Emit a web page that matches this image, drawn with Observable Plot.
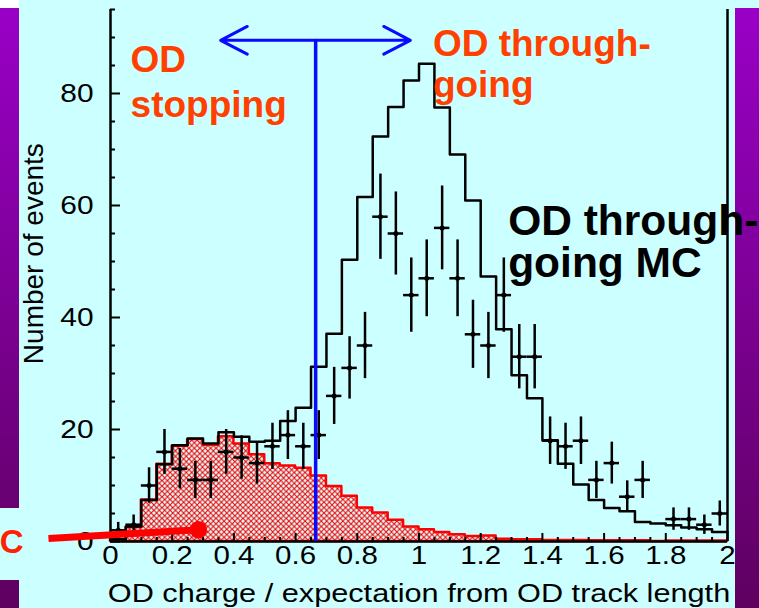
<!DOCTYPE html>
<html>
<head>
<meta charset="utf-8">
<script src="https://cdn.jsdelivr.net/npm/d3@7"></script>
<script src="https://cdn.jsdelivr.net/npm/@observablehq/plot@0.6"></script>
<style>
  html, body { margin: 0; padding: 0; width: 759px; height: 608px; overflow: hidden; background: #ccffff; position: relative; font-family: "Liberation Sans", Arial, sans-serif; }
  .bar { position: absolute; background: linear-gradient(#9a00c8, #5e0060) fixed; background-size: 100% 608px; }
  .white { position: absolute; background: #ffffff; }
  #chart { position: absolute; left: 0; top: 0; }
</style>
</head>
<body>
<div class="white" style="left:0;top:0;width:19px;height:8px"></div>
<div class="bar" style="left:0;top:8px;width:19px;height:500px"></div>
<div class="bar" style="left:0;top:580px;width:19px;height:28px"></div>
<div class="bar" style="left:735px;top:8px;width:24px;height:600px"></div>
<div id="chart"></div>
<script>
// ---------------- data ----------------
const binWidth = 0.05;
const nBins = 40;
// MC histogram (black outline), per 0.05 bin from 0 to 2
const mcTotal = [0.4, 2.7, 7.4, 13.8, 17.2, 18.4, 17.5, 19.5, 18.7, 17.8,
                 18.0, 21.5, 23.9, 31.2, 37.1, 50.3, 61.5, 72.3, 77.6, 82.3,
                 85.3, 77.5, 69.1, 60.9, 47.3, 37.9, 29.7, 25.6, 18.1, 13.9,
                 10.2, 7.4, 6.0, 5.4, 3.5, 3.2, 2.9, 2.5, 2.2, 1.7];
// stopping MC histogram (red hatched)
const mcStopping = [0.3, 2.5, 7.4, 13.8, 17.0, 18.2, 17.2, 18.7, 17.4, 15.5,
                    13.9, 13.5, 13.1, 11.7, 9.8, 8.1, 6.0, 5.1, 3.8, 2.6,
                    2.1, 1.6, 1.2, 0.9, 1.0, 0.4, 0.3, 0.3, 0.2, 0.2,
                    0.2, 0.15, 0.15, 0.15, 0.15, 0.0, 0.1, 0.1, 0.1, 0.1];
// observed data counts per bin
const dataCounts = [2, 3, 10, 16, 13, 11, 11, 16, 15, 14,
                    17, 19, 17, 19, 26, 31, 35, 58, 55, 44,
                    47, 56, 47, 37, 35, 44, 33, 33, 18, 17,
                    18, 11, 14, 8, 11, 0, 4, 4, 3, 5];
const xTickLabels = [0, 0.2, 0.4, 0.6, 0.8, 1, 1.2, 1.4, 1.6, 1.8, 2];
const yTickLabels = [0, 20, 40, 60, 80];
const xLabel = "OD charge / expectation from OD track length";
const yLabel = "Number of events";
const cutValue = 0.665;
const arrowSpan = [0.357, 0.972];
const arrowLevel = 89.5;
// annotation texts (positions in data units)
const orangeNotes = [
  {x: 0.065, y: 75.8, text: "OD\nstopping", lh: 1.22},
  {x: 1.045, y: 79.3, text: "OD through-\ngoing", lh: 1.13}
];
const blackNotes = [{x: 1.289, y: 47.3, text: "OD through-\ngoing MC"}];
const sideNote = [{x: -0.282, y: -2.14, text: "C"}];
const pointer = [{x1: -0.201, y1: 0.54, x2: 0.285, y2: 2.1}];
const yLabelPos = [{x: -0.2464, y: 51.4, text: yLabel}];

// ---------------- layout ----------------
const W = 759, H = 608, mL = 110, mR = 32, mT = 9, mB = 67;
const xDomain = [0, 2], yDomain = [0, 95];
const pxX = (W - mL - mR) / (xDomain[1] - xDomain[0]);
const pxY = (H - mT - mB) / (yDomain[1] - yDomain[0]);

const binStart = d3.range(nBins).map(i => +(i * binWidth).toFixed(2));
const mcStep = binStart.map((x, i) => ({x, y: mcTotal[i]})).concat([{x: xDomain[1], y: mcTotal[nBins - 1]}]);
const stopStep = binStart.map((x, i) => ({x, y: mcStopping[i]})).concat([{x: xDomain[1], y: mcStopping[nBins - 1]}]);
const pts = dataCounts.map((n, i) => ({x: binStart[i] + binWidth / 2, n})).filter(d => d.n > 0);

const xMinor = d3.range(0, 41).map(i => +(i * 0.05).toFixed(2));
const yMinor = d3.range(0, 20).map(i => i * 5);

const blue = "#0a0aff";
const orange = "#ff4000";
const font = "Liberation Sans, Arial, sans-serif";

const chart = Plot.plot({
  width: W, height: H,
  marginLeft: mL, marginRight: mR, marginTop: mT, marginBottom: mB,
  style: {background: "transparent", overflow: "visible", fontFamily: font},
  x: {domain: xDomain},
  y: {domain: yDomain},
  marks: [
    // red hatched stopping MC
    Plot.areaY(stopStep, {x: "x", y: "y", curve: "step-after", fill: "url(#xhatch)", stroke: "#ff0000", strokeWidth: 2.5}),
    // black MC
    Plot.line(mcStep, {x: "x", y: "y", curve: "step-after", stroke: "black", strokeWidth: 2.5}),
    // data points
    Plot.ruleX(pts, {x: "x", y1: d => d.n - Math.sqrt(d.n), y2: d => d.n + Math.sqrt(d.n), stroke: "black", strokeWidth: 2.5}),
    Plot.ruleY(pts, {y: "n", x1: d => d.x - binWidth / 2, x2: d => d.x + binWidth / 2, stroke: "black", strokeWidth: 2.5}),
    Plot.dot(pts, {x: "x", y: "n", r: 2.5, fill: "black"}),
    // axes frame
    Plot.ruleY([0], {stroke: "black", strokeWidth: 2.5}),
    Plot.ruleX([xDomain[0]], {stroke: "black", strokeWidth: 2.5}),
    Plot.ruleX([xDomain[1]], {stroke: "black", strokeWidth: 2.5}),
    Plot.ruleX(xMinor, {x: d => d, y1: 0, y2: d => (Math.abs(d * 5 - Math.round(d * 5)) < 1e-6 ? 8 : 4) / pxY, stroke: "black", strokeWidth: 2}),
    Plot.ruleY(yMinor, {y: d => d, x1: 0, x2: d => (d % 20 === 0 ? 10 : 5) / pxX, stroke: "black", strokeWidth: 2}),
    Plot.axisX({ticks: xTickLabels, tickSize: 0, tickPadding: 5, tickFormat: d => `${d}`, fontSize: 25, label: null, className: "stretch-tick"}),
    Plot.axisY({ticks: yTickLabels, tickSize: 0, tickPadding: 17, tickFormat: d => `${d}`, fontSize: 26, label: null, className: "ytick"}),
    Plot.text([xLabel], {x: (xDomain[0] + xDomain[1]) / 2, frameAnchor: "bottom", dy: 60.5, lineAnchor: "bottom", fontSize: 26, fill: "black", className: "stretch-label"}),
    Plot.text(yLabelPos, {x: "x", y: "y", text: "text", rotate: -90, lineAnchor: "middle", fontSize: 28, fill: "black"}),
    // blue cut line and arrows
    Plot.ruleX([cutValue], {y1: 0, y2: arrowLevel, stroke: blue, strokeWidth: 3.5}),
    Plot.arrow(arrowSpan.map(e => ({x1: cutValue, x2: e})), {x1: "x1", x2: "x2", y1: arrowLevel, y2: arrowLevel, stroke: blue, strokeWidth: 3, headLength: 15, headAngle: 55}),
    // annotations
    ...orangeNotes.map(n => Plot.text([n], {x: "x", y: "y", text: "text", textAnchor: "start", lineAnchor: "bottom", lineHeight: n.lh, fontSize: 37, fontWeight: "bold", fill: orange})),
    Plot.text(blackNotes, {x: "x", y: "y", text: "text", textAnchor: "start", lineAnchor: "bottom", lineHeight: 0.97, fontSize: 42.5, fontWeight: "bold", fill: "black"}),
    Plot.link(pointer, {x1: "x1", y1: "y1", x2: "x2", y2: "y2", stroke: "#ff0000", strokeWidth: 7}),
    Plot.dot(pointer, {x: "x2", y: "y2", r: 8.7, fill: "#ff0000"}),
    Plot.text(sideNote, {x: "x", y: "y", text: "text", textAnchor: "end", lineAnchor: "bottom", fontSize: 33, fontWeight: "bold", fill: "#ff2200"})
  ]
});

// hatch pattern for the stopping MC
d3.select(chart).insert("defs", ":first-child").html(
  '<pattern id="xhatch" patternUnits="userSpaceOnUse" width="5.4" height="5.4">' +
  '<rect width="5.4" height="5.4" fill="#ccffff"/>' +
  '<path d="M-1,-1L6.4,6.4M6.4,-1L-1,6.4" stroke="#ff0000" stroke-width="1.1"/>' +
  '</pattern>'
);
document.getElementById("chart").appendChild(chart);

// horizontally stretched axis text (as in the original figure)
function stretch(sel, k) {
  d3.select(chart).selectAll(sel).each(function () {
    const L = this.getComputedTextLength();
    if (L > 0) { this.setAttribute("textLength", L * k); this.setAttribute("lengthAdjust", "spacingAndGlyphs"); }
  });
}
stretch(".stretch-tick text", 1.18);
stretch(".stretch-label text", 1.18);
stretch(".ytick text", 1.15);
</script>
</body>
</html>
